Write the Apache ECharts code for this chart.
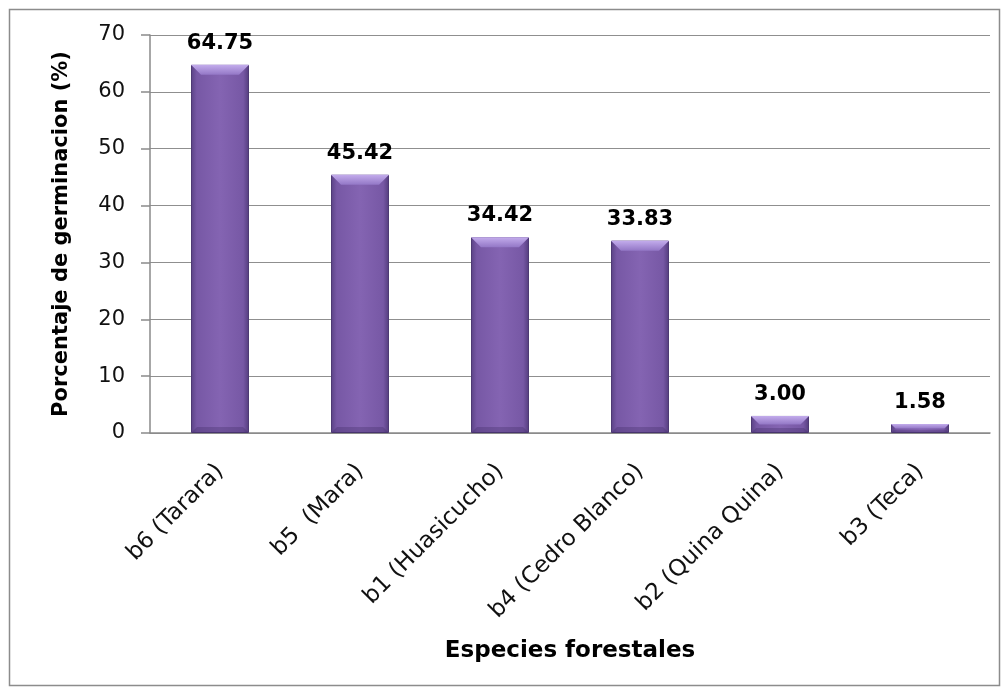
<!DOCTYPE html>
<html>
<head>
<meta charset="utf-8">
<script src="https://cdn.jsdelivr.net/npm/echarts@6/dist/echarts.min.js"></script>
<style>
  html, body { margin: 0; padding: 0; background: #fff; }
  #chart { width: 1004px; height: 690px; }
</style>
</head>
<body>
<div id="chart"></div>
<script>
const species = ['b6 (Tarara)', 'b5  (Mara)', 'b1 (Huasicucho)', 'b4 (Cedro Blanco)', 'b2 (Quina Quina)', 'b3 (Teca)'];
const germination = [64.75, 45.42, 34.42, 33.83, 3.00, 1.58];

const font = '"DejaVu Sans", Arial, sans-serif';

// top bevel drawn on each bar through the axis scales
function renderBevel(params, api) {
  const top = api.coord([api.value(0), api.value(1)]);
  const base = api.coord([api.value(0), 0]);
  const w = 58;
  const h = Math.min(10, (base[1] - top[1]) / 2);
  const x0 = top[0] - w / 2, x1 = top[0] + w / 2, y0 = top[1];
  return {
    type: 'group',
    children: [{
      type: 'polygon',
      shape: { points: [[x0, y0], [x1, y0], [x1 - h, y0 + h], [x0 + h, y0 + h]] },
      style: {
        fill: new echarts.graphic.LinearGradient(0, 0, 0, 1, [
          { offset: 0, color: '#c3acec' },
          { offset: 1, color: '#9377c6' }
        ])
      }
    }, {
      type: 'polygon',
      shape: { points: [[x0, base[1]], [x1, base[1]], [x1 - h * 0.6, base[1] - h * 0.6], [x0 + h * 0.6, base[1] - h * 0.6]] },
      style: { fill: 'rgba(60,40,95,0.3)' }
    }]
  };
}

const myChart = echarts.init(document.getElementById('chart'));
myChart.setOption({
  backgroundColor: '#fff',
  animation: false,
  graphic: [{
    type: 'rect',
    shape: { x: 9.5, y: 9.5, width: 990, height: 676 },
    style: { fill: 'none', stroke: '#8c8c8c', lineWidth: 1.5 },
    silent: true
  }],
  grid: { left: 150, right: 14, top: 35, bottom: 257 },
  xAxis: {
    type: 'category',
    data: species,
    name: 'Especies forestales',
    nameLocation: 'middle',
    nameGap: 207,
    nameTextStyle: { fontFamily: font, fontSize: 23, fontWeight: 'bold', color: '#000' },
    axisLine: { lineStyle: { color: '#8a8a8a', width: 1.5 } },
    axisTick: { show: false },
    axisLabel: {
      rotate: 45, interval: 0, margin: 35,
      fontFamily: font, fontSize: 23, color: '#111'
    }
  },
  yAxis: {
    type: 'value',
    min: 0, max: 70, interval: 10,
    name: 'Porcentaje de germinacion (%)',
    nameLocation: 'middle',
    nameGap: 78,
    nameTextStyle: { fontFamily: font, fontSize: 21, fontWeight: 'bold', color: '#000' },
    axisLine: { show: true, lineStyle: { color: '#8a8a8a', width: 1.5 } },
    axisTick: { show: true, length: 9, lineStyle: { color: '#8a8a8a', width: 1.5 } },
    splitLine: { lineStyle: { color: '#8f8f8f', width: 1.2 } },
    axisLabel: { margin: 25, fontFamily: font, fontSize: 21, color: '#111' }
  },
  series: [{
    type: 'bar',
    data: germination,
    barWidth: 58,
    itemStyle: {
      color: new echarts.graphic.LinearGradient(0, 0, 1, 0, [
        { offset: 0, color: '#5a4285' },
        { offset: 0.1, color: '#7758a5' },
        { offset: 0.5, color: '#8464b2' },
        { offset: 0.9, color: '#7758a5' },
        { offset: 1, color: '#533c7d' }
      ]),
      borderColor: '#4e3a74',
      borderWidth: 1
    },
    label: {
      show: true,
      position: 'top',
      distance: 11,
      formatter: p => p.value.toFixed(2),
      fontFamily: font, fontSize: 21, fontWeight: 'bold', color: '#000'
    }
  }, {
    type: 'custom',
    data: germination.map((v, i) => [i, v]),
    renderItem: renderBevel,
    silent: true,
    z: 3
  }]
});
</script>
</body>
</html>
